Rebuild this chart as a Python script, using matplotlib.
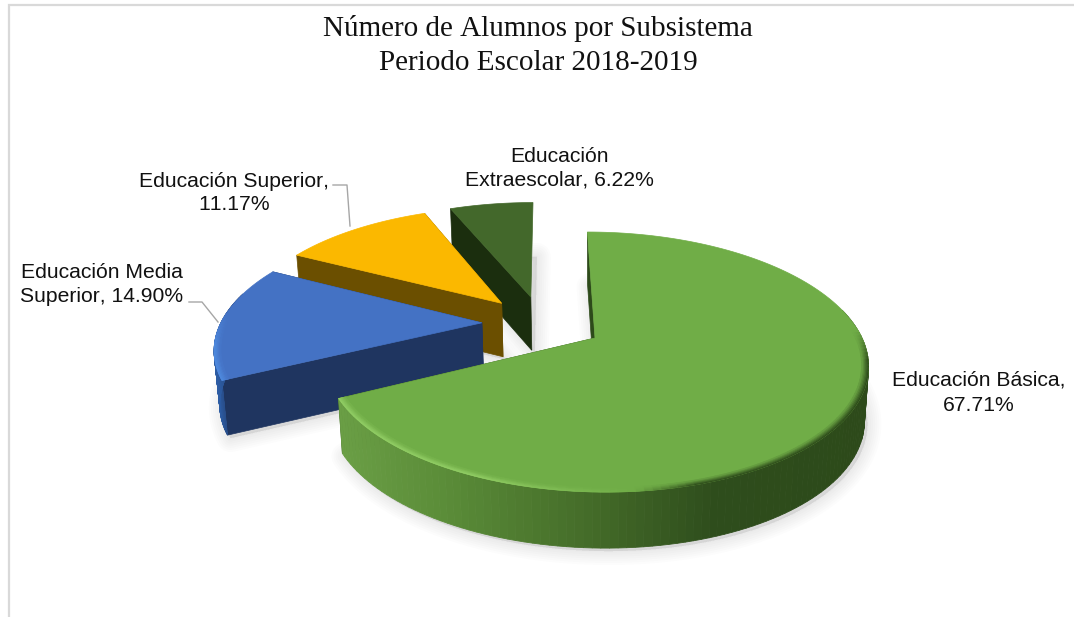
#!/usr/bin/env python3
"""3D exploded pie, number of students per subsystem."""
import numpy as np
import matplotlib
matplotlib.use("Agg")
import matplotlib.pyplot as plt

TITLE = ["Número de Alumnos por Subsistema", "Periodo Escolar 2018-2019"]
CATEGORIES = ["Educación Básica", "Educación Media Superior",
              "Educación Superior", "Educación Extraescolar"]
VALUES = [67.71, 14.90, 11.17, 6.22]
LABELS = [["Educación Básica,", "67.71%"],
          ["Educación Media", "Superior, 14.90%"],
          ["Educación Superior,", "11.17%"],
          ["Educación", "Extraescolar, 6.22%"]]

TOP_COLORS = ["#70ad47", "#4472c4", "#fbb800", "#43682b"]
FACE_COLORS = ["#2d4a1a", "#1f3560", "#6b4f00", "#1b2e0e"]
GREEN_WALL_X = [343, 450, 600, 720, 869]
GREEN_WALL = ["#6a9e45", "#5a8c38", "#436a28", "#2e4d1c", "#2d4a1a"]

# pie plane -> pixels (perspective)
CX, CY, RX, RY, K, SHEAR = 595, 338, 267, 125.6, 0.185, -9
EXPLODE = 0.23
DEPTH = 54
NUDGE = [0, -1, -2, -1]

plt.rcParams["font.family"] = ["Liberation Sans", "DejaVu Sans"]
plt.rcParams["text.kerning_factor"] = 6


def rgb(c):
    return np.array(matplotlib.colors.to_rgb(c))


def mix(a, b, t):
    return tuple(rgb(a) * (1 - t) + rgb(b) * t)


def project(u, v):
    w = 1 + K * v
    return CX + (RX * u + SHEAR * v) / w, CY - RY * v / w


def lower(x, y, v):
    return x - 0.015 * (x - CX), y + DEPTH - 2 * v


def wall_color(i, x, th):
    if i == 0:
        return tuple(np.interp(x, GREEN_WALL_X, rgb_table[:, k]) for k in range(3))
    if i == 1:
        return mix("#2e5fa8", "#1f3560", np.clip((x - 214) / 22, 0, 1))
    return FACE_COLORS[i]


def rim_color(i, x, th):
    # highlight on the lit side of the front edge, dark on the other
    fade = np.clip((0.08 - np.cos(th)) / 0.25, 0, 1)
    if i == 0:
        if x < 640:
            c = mix("#93cf66", TOP_COLORS[0], np.clip((x - 480) / 160, 0, 1))
        else:
            c = mix(TOP_COLORS[0], "#2d4a1a", np.clip((x - 640) / 60, 0, 1))
        return mix(TOP_COLORS[0], c, fade)
    if i == 1:
        return mix(TOP_COLORS[1], "#4f8be0", fade)
    return TOP_COLORS[i]


rgb_table = np.array([rgb(c) for c in GREEN_WALL])

edges = np.cumsum([0] + VALUES) / sum(VALUES) * 2 * np.pi
mids = (edges[:-1] + edges[1:]) / 2
# the first slice's tip sits on the plane origin
ox, oy = -EXPLODE * np.sin(mids[0]), -EXPLODE * np.cos(mids[0])

fig = plt.figure(figsize=(10.74, 6.17), dpi=100)
ax = fig.add_axes([0, 0, 1, 1])
ax.set_xlim(0, 1074)
ax.set_ylim(617, 0)
ax.axis("off")

# chart frame
ax.plot([9, 9, 1074], [617, 5, 5], color="#d9d9d9", lw=1.6, solid_joinstyle="miter")

slices = []
for i in range(len(VALUES)):
    th = np.linspace(edges[i], edges[i + 1], 160)
    tx = ox + EXPLODE * np.sin(mids[i])
    ty = oy + EXPLODE * np.cos(mids[i])
    slices.append((th, tx, ty))

# soft shadows first, under everything
for i, (th, tx, ty) in enumerate(slices):
    u = np.r_[tx, tx + np.sin(th)]
    v = np.r_[ty, ty + np.cos(th)]
    x, y = project(u, v)
    x, y = lower(x, y, v)
    for lw in np.arange(20, 1, -3):
        ax.fill(x + 3 + NUDGE[i], y + 3, facecolor="#808080", edgecolor="#808080", alpha=0.022,
                lw=lw, joinstyle="round")

# back to front
for i in [3, 2, 1, 0]:
    th, tx, ty = slices[i]
    au, av = tx, ty
    ou, ov = tx + np.sin(th), ty + np.cos(th)
    dx = NUDGE[i]
    # radial faces
    for j in [0, -1]:
        if i == 3 and j == -1:
            continue  # edge-on in the reference
        x0, y0 = project(np.array([au, ou[j]]), np.array([av, ov[j]]))
        x1, y1 = lower(x0, y0, np.array([av, ov[j]]))
        ax.fill(np.r_[x0, x1[::-1]] + dx, np.r_[y0, y1[::-1]], color=FACE_COLORS[i], lw=0.5)
    # outer wall, strip by strip
    x0, y0 = project(ou, ov)
    x1, y1 = lower(x0, y0, ov)
    for j in range(len(th) - 1):
        if np.cos(th[j]) > 0.25:
            continue
        ax.fill(np.array([x0[j], x0[j + 1], x1[j + 1], x1[j]]) + dx,
                [y0[j], y0[j + 1], y1[j + 1], y1[j]],
                color=wall_color(i, x0[j], th[j]), lw=0.6)
    # top surface
    tu = np.r_[au, ou]
    tv = np.r_[av, ov]
    x, y = project(tu, tv)
    ax.fill(x + dx, y, color=TOP_COLORS[i], lw=0.5)
    # bevel along the front edge
    if i < 2:
        steps = 6
        radii = np.linspace(1.0, 0.975, steps + 1)
        for s in range(steps):
            t = s / steps
            for j in range(len(th) - 1):
                if np.cos(th[j]) > 0.08:
                    continue
                a = th[j:j + 2]
                uu = np.r_[tx + radii[s] * np.sin(a), tx + radii[s + 1] * np.sin(a[::-1])]
                vv = np.r_[ty + radii[s] * np.cos(a), ty + radii[s + 1] * np.cos(a[::-1])]
                px, py = project(uu, vv)
                ax.fill(px + dx, py, color=mix(rim_color(i, px[0], th[j]), TOP_COLORS[i], t), lw=0.4)

# leader lines
ax.plot([333, 347, 350], [185, 185, 226], color="#a6a6a6", lw=1)
ax.plot([189, 202, 218], [302, 302, 322], color="#a6a6a6", lw=1)

# labels
LABEL_X = [979, 102, 234, 559]
LABEL_Y = [[386, 411], [278, 302], [187, 210], [162, 186]]
for lines, lx, ly in zip(LABELS, LABEL_X, LABEL_Y):
    for line, yy in zip(lines, ly):
        ax.text(lx, yy, line, ha="center", va="baseline", fontsize=15.2, color="#111111")

for line, yy in zip(TITLE, [36, 70]):
    ax.text(538, yy, line, ha="center", va="baseline", fontsize=21, color="#111111",
            family=["Liberation Serif", "DejaVu Serif"])

fig.savefig("out.png", dpi=100)
